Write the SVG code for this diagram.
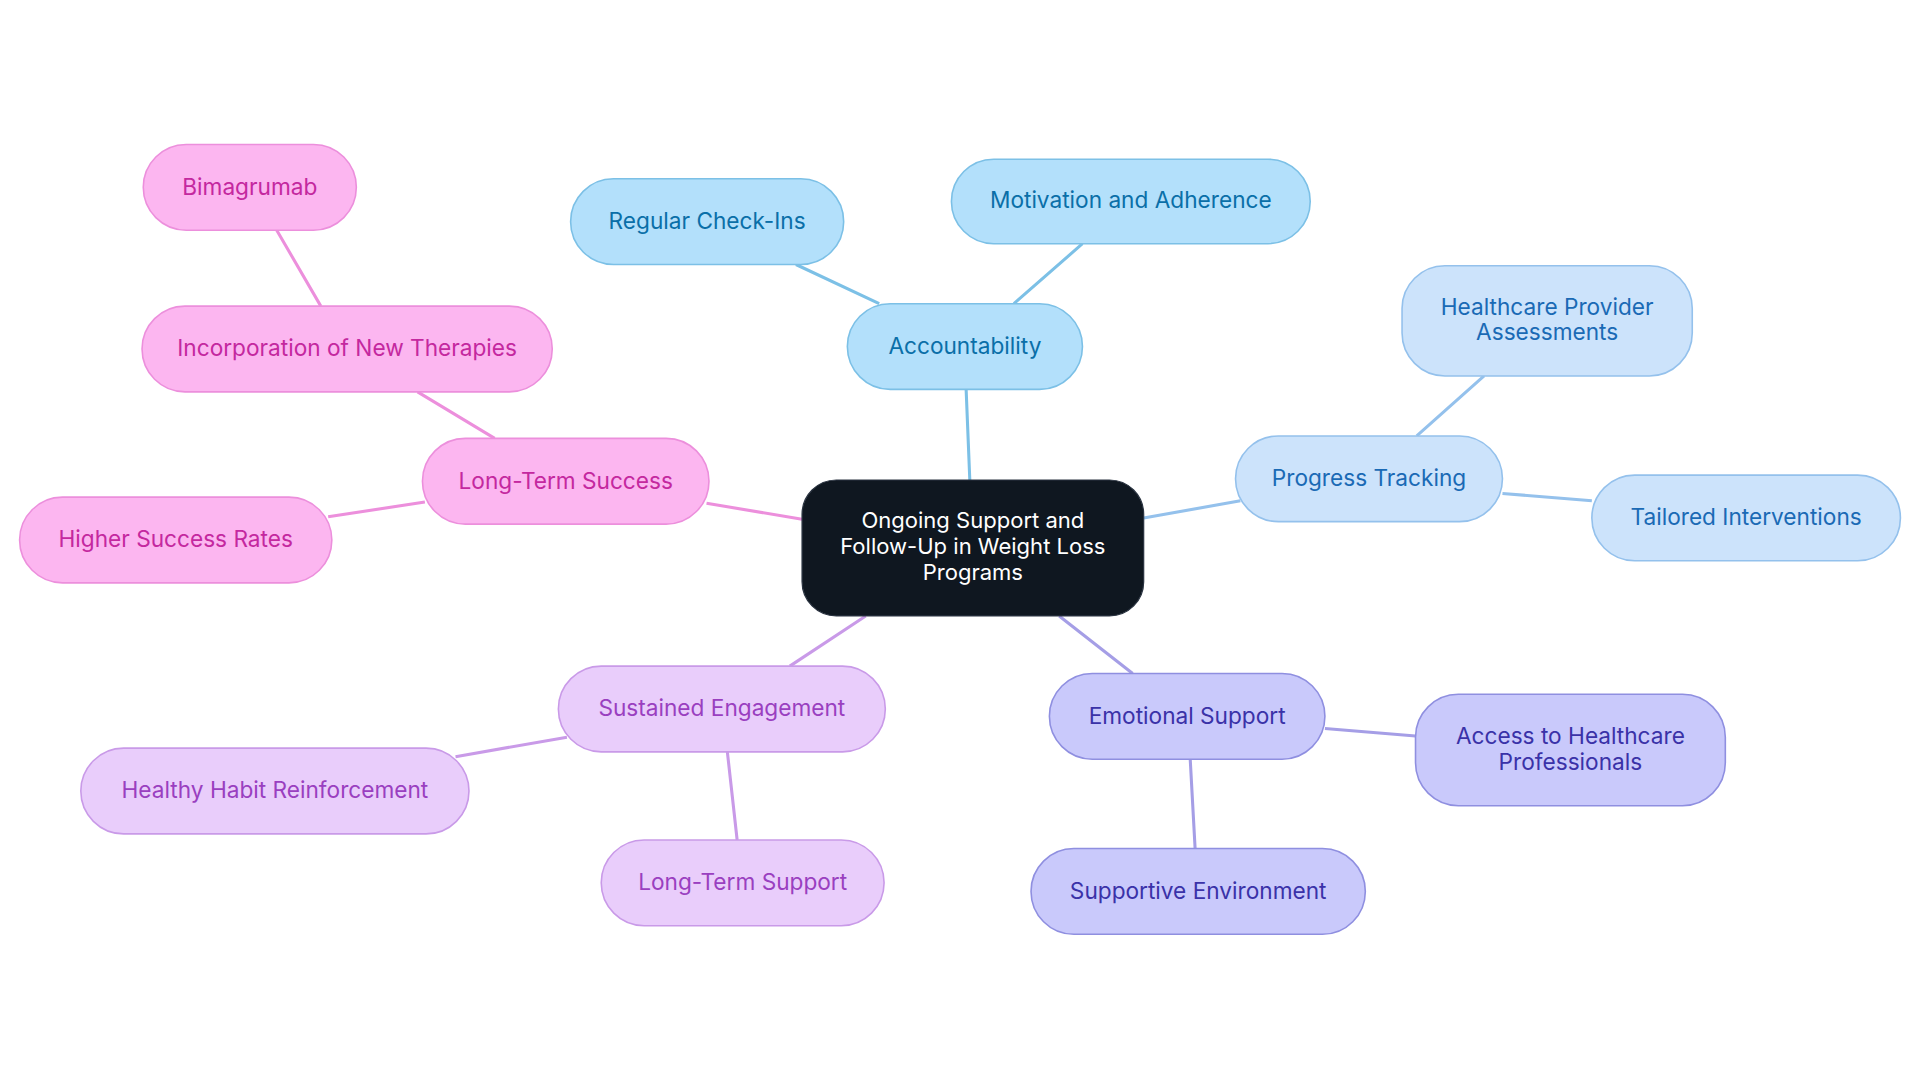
<svg xmlns="http://www.w3.org/2000/svg" width="1920" height="1083" viewBox="0 0 1920 1083">
<style>
text{font-family:Inter,"Noto Sans",sans-serif;font-size:18.5px;text-anchor:middle;dominant-baseline:central}
.c{font-size:18px}
.e{fill:none;stroke-width:2.5}
.b rect{fill:#b3e0fb;stroke:#7cc0e6;stroke-width:1.3}.b text{fill:#0a6fa8}
.l rect{fill:#cce3fb;stroke:#94c1ec;stroke-width:1.3}.l text{fill:#1a6ab5}
.v rect{fill:#c9c9fb;stroke:#8f8fe0;stroke-width:1.3}.v text{fill:#3a32a8}
.p rect{fill:#e9cdfb;stroke:#c99ae8;stroke-width:1.3}.p text{fill:#9a3fc0}
.k rect{fill:#fcb6f0;stroke:#ec8fdc;stroke-width:1.3}.k text{fill:#c4289f}
</style>
<rect width="1920" height="1083" fill="#fff"/>
<g transform="scale(1.2245)">
<g id="connectors">
<path class="e" stroke="#7cc0e6" d="M792,392L789,318M718,248L650,216M828,248L884,199"/>
<path class="e" stroke="#94c1ec" d="M934,423L1013,409M1157,356L1212,307M1227,403L1300,409"/>
<path class="e" stroke="#a59ee6" d="M865,503L925,550M1082,595L1156,601M972,620L976,693"/>
<path class="e" stroke="#c99ae8" d="M707,503L645,544M463,602L372,618M594,614L602,686"/>
<path class="e" stroke="#ec8fdc" d="M655,424L577,411M347,410L268,422M404,358L341,320M262,250L226,188"/>
</g>
<g id="center"><rect x="655" y="392" width="279" height="111" rx="28" fill="#0f1720" stroke="#2a3340"/><text class="c" x="794.5" y="425" fill="#fff">Ongoing Support and</text><text class="c" x="794.5" y="446" fill="#fff">Follow-Up in Weight Loss</text><text class="c" x="794.5" y="467" fill="#fff">Programs</text></g>
<g id="accountability" class="b"><rect x="692" y="248" width="192" height="70" rx="35"/><text x="788" y="282">Accountability</text></g>
<g id="checkins" class="b"><rect x="466" y="146" width="223" height="70" rx="35"/><text x="577.5" y="180">Regular Check-Ins</text></g>
<g id="motivation" class="b"><rect x="777" y="130" width="293" height="69" rx="34.5"/><text x="923.5" y="163">Motivation and Adherence</text></g>
<g id="progress" class="l"><rect x="1009" y="356" width="218" height="70" rx="35"/><text x="1118" y="390">Progress Tracking</text></g>
<g id="assess" class="l"><rect x="1145" y="217" width="237" height="90" rx="35"/><text x="1263.5" y="250">Healthcare Provider</text><text x="1263.5" y="271">Assessments</text></g>
<g id="tailored" class="l"><rect x="1300" y="388" width="252" height="70" rx="35"/><text x="1426" y="422">Tailored Interventions</text></g>
<g id="emotional" class="v"><rect x="857" y="550" width="225" height="70" rx="35"/><text x="969.5" y="584">Emotional Support</text></g>
<g id="access" class="v"><rect x="1156" y="567" width="253" height="91" rx="35"/><text x="1282.5" y="601">Access to Healthcare</text><text x="1282.5" y="622">Professionals</text></g>
<g id="supportive" class="v"><rect x="842" y="693" width="273" height="70" rx="35"/><text x="978.5" y="727">Supportive Environment</text></g>
<g id="sustained" class="p"><rect x="456" y="544" width="267" height="70" rx="35"/><text x="589.5" y="578">Sustained Engagement</text></g>
<g id="healthy" class="p"><rect x="66" y="611" width="317" height="70" rx="35"/><text x="224.5" y="645">Healthy Habit Reinforcement</text></g>
<g id="ltsupport" class="p"><rect x="491" y="686" width="231" height="70" rx="35"/><text x="606.5" y="720">Long-Term Support</text></g>
<g id="ltsuccess" class="k"><rect x="345" y="358" width="234" height="70" rx="35"/><text x="462" y="392">Long-Term Success</text></g>
<g id="higher" class="k"><rect x="16" y="406" width="255" height="70" rx="35"/><text x="143.5" y="440">Higher Success Rates</text></g>
<g id="incorp" class="k"><rect x="116" y="250" width="335" height="70" rx="35"/><text x="283.5" y="284">Incorporation of New Therapies</text></g>
<g id="bima" class="k"><rect x="117" y="118" width="174" height="70" rx="35"/><text x="204" y="152">Bimagrumab</text></g>
</g>
</svg>
